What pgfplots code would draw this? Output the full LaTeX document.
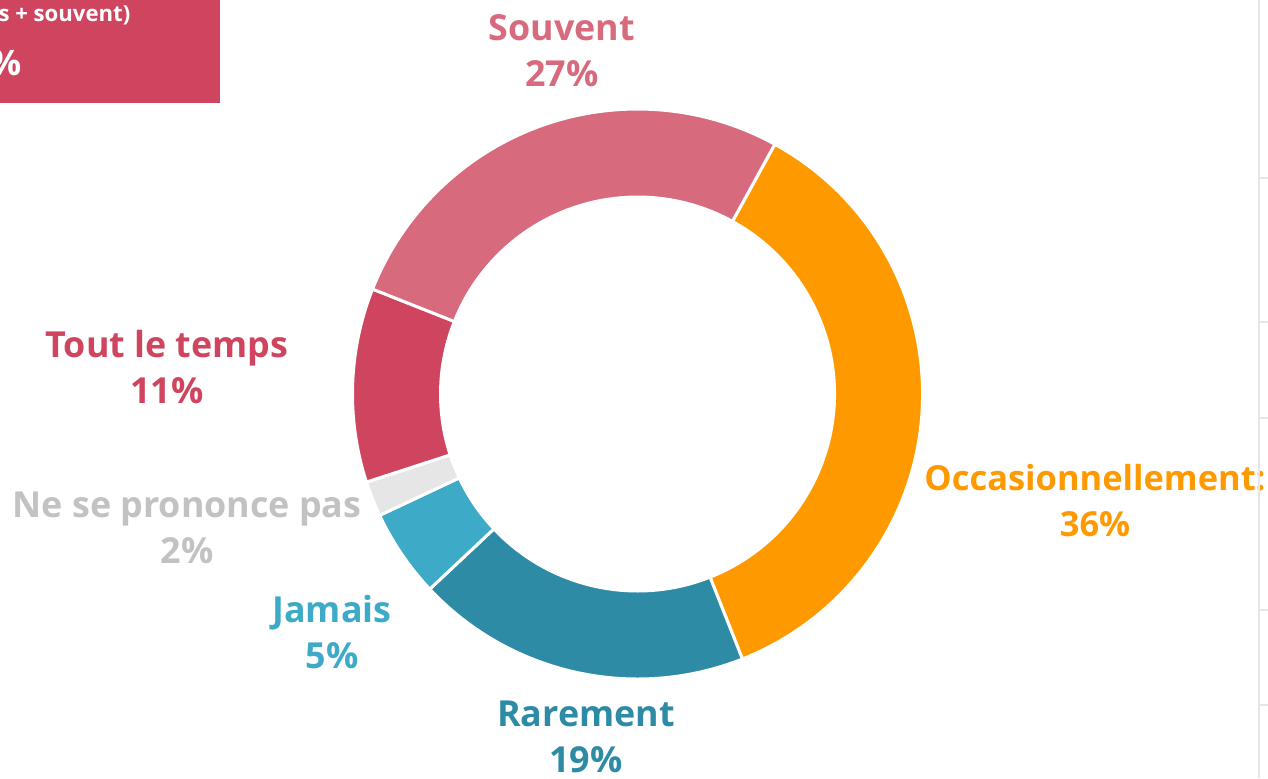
\documentclass[border=0pt]{standalone}
\usepackage{fontspec}
\setmainfont{Open Sans}
\usepackage{pgfplots}
\usepackage{pgfplotstable}
\pgfplotsset{compat=1.18}
\definecolor{cSou}{HTML}{D86A7E}
\definecolor{cOcc}{HTML}{FF9900}
\definecolor{cRar}{HTML}{2E8BA5}
\definecolor{cJam}{HTML}{3DAAC8}
\definecolor{cNsp}{HTML}{E6E6E6}
\definecolor{cNspT}{HTML}{C2C2C2}
\definecolor{cTlt}{HTML}{CF455F}
\definecolor{cLine}{HTML}{E6E6E6}

\pgfplotstableread[col sep=comma]{
label,value,color
Occasionnellement,36,cOcc
Rarement,19,cRar
Jamais,5,cJam
Ne se prononce pas,2,cNsp
Tout le temps,11,cTlt
Souvent,27,cSou
}\donut

\begin{document}
\begin{tikzpicture}
\clip (0,0) rectangle (12.68cm,7.78cm);
\begin{axis}[
  scale only axis, width=12.68cm, height=7.78cm,
  xmin=0, xmax=1268, ymin=0, ymax=778,
  hide axis, clip=false,
  at={(0,0)}, anchor=south west,
]
% donut
\def\curangle{61.2}
\pgfplotsforeachungrouped \rowidx in {0,...,5} {%
  \pgfplotstablegetelem{\rowidx}{value}\of\donut \let\segval\pgfplotsretval
  \pgfplotstablegetelem{\rowidx}{color}\of\donut \let\segcol\pgfplotsretval
  \pgfmathsetmacro\endangle{\curangle - 3.6*\segval}%
  \edef\temp{\noexpand\fill[\segcol, draw=white, line width=0.85pt, line join=miter]
    (axis cs:637.5,384) ++(\curangle:2.85cm)
    arc[start angle=\curangle, end angle=\endangle, radius=2.85cm]
    -- ++(\endangle:-0.88cm)
    arc[start angle=\endangle, end angle=\curangle, radius=1.97cm] -- cycle;}%
  \temp
  \global\let\curangle\endangle
}
% labels
\tikzset{lab/.style={font=\bfseries\fontsize{10.2}{13.1}\selectfont, align=center, inner sep=0pt}}
\node[lab, text=cSou] at (axis cs:562,727.5) {Souvent\\27\%};
\node[lab, text=cOcc, font=\bfseries\fontsize{9.8}{13.1}\selectfont] at (axis cs:1095,277.5) {Occasionnellement:\\36\%};
\node[lab, text=cTlt] at (axis cs:167,410.5) {Tout le temps\\11\%};
\node[lab, text=cNspT] at (axis cs:187,250.5) {Ne se prononce pas\\2\%};
\node[lab, text=cJam] at (axis cs:332,145.5) {Jamais\\5\%};
\node[lab, text=cRar] at (axis cs:586,41) {Rarement\\19\%};
% top-left box
\fill[cTlt] (axis cs:-10,675) rectangle (axis cs:220,790);
\node[anchor=base east, text=white, inner sep=0pt, font=\bfseries\fontsize{6.3}{8}\selectfont] at (axis cs:131,757) {(tout le temps + souvent)};
\node[anchor=base east, text=white, inner sep=0pt, font=\bfseries\fontsize{10}{12}\selectfont] at (axis cs:22,703) {38\%};
% right-hand line and ticks
\draw[cLine, line width=0.6pt] (axis cs:1259,0) -- (axis cs:1259,778);
\draw[cLine, line width=0.6pt] (axis cs:1259,600) -- (axis cs:1270,600);
\draw[cLine, line width=0.6pt] (axis cs:1259,456) -- (axis cs:1270,456);
\draw[cLine, line width=0.6pt] (axis cs:1259,360) -- (axis cs:1270,360);
\draw[cLine, line width=0.6pt] (axis cs:1259,168) -- (axis cs:1270,168);
\draw[cLine, line width=0.6pt] (axis cs:1259,73) -- (axis cs:1270,73);
\end{axis}
\end{tikzpicture}
\end{document}
